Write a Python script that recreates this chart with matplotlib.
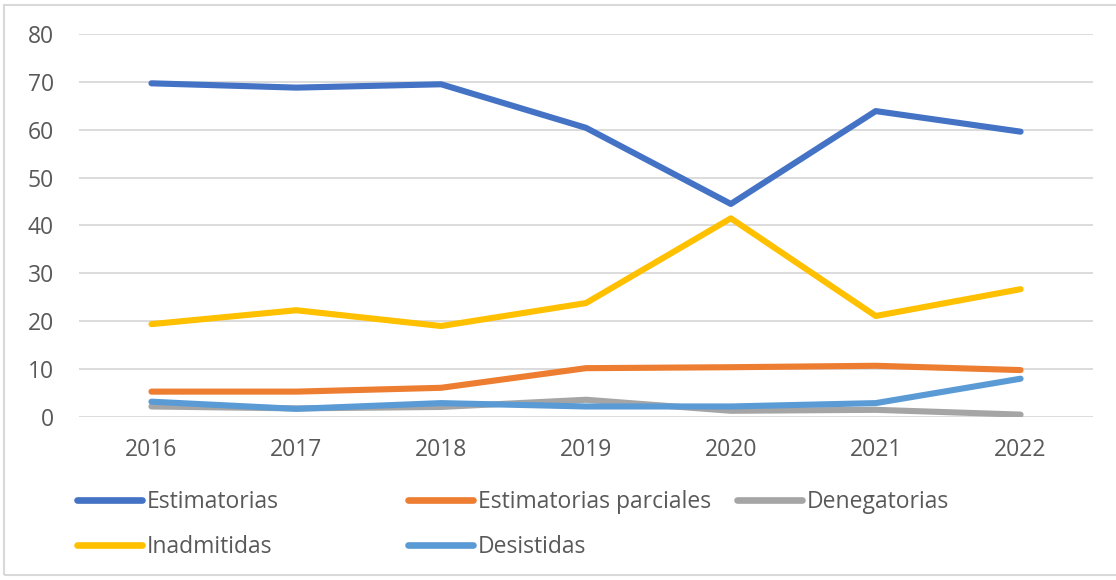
import matplotlib
matplotlib.use("Agg")
import matplotlib.pyplot as plt
from matplotlib.patches import Rectangle

plt.rcParams['font.family'] = ['Open Sans', 'DejaVu Sans']

years = ["2016", "2017", "2018", "2019", "2020", "2021", "2022"]
estimatorias = [69.7, 68.8, 69.5, 60.4, 44.5, 63.9, 59.6]
estim_parciales = [5.3, 5.3, 6.1, 10.2, 10.4, 10.7, 9.8]
denegatorias = [2.2, 1.8, 2.1, 3.6, 1.3, 1.5, 0.5]
inadmitidas = [19.4, 22.3, 19.0, 23.8, 41.5, 21.1, 26.7]
desistidas = [3.2, 1.7, 2.9, 2.2, 2.2, 2.9, 8.0]

series = [
    ("Estimatorias", estimatorias, "#4472C4"),
    ("Estimatorias parciales", estim_parciales, "#ED7D31"),
    ("Denegatorias", denegatorias, "#A5A5A5"),
    ("Inadmitidas", inadmitidas, "#FFC000"),
    ("Desistidas", desistidas, "#5B9BD5"),
]

W, H = 1116, 580
FS = 16.5
fig = plt.figure(figsize=(W / 100, H / 100), dpi=100)
ax = fig.add_axes([79 / W, 1 - 417 / H, (1093 - 79) / W, (417 - 34) / H])

x = list(range(len(years)))
handles = {}
for name, vals, col in series:
    ln, = ax.plot(x, vals, color=col, lw=4.4, solid_capstyle="round",
                  solid_joinstyle="round", label=name)
    handles[name] = ln

ax.set_xlim(-0.5, len(years) - 0.5)
ax.set_ylim(0, 80)
ax.set_yticks(range(0, 81, 10))
ax.set_xticks(x)
ax.set_xticklabels(years)
ax.grid(axis="y", color="#D9D9D9", lw=1.3)
ax.set_axisbelow(True)
for s in ax.spines.values():
    s.set_visible(False)
ax.tick_params(length=0, labelsize=FS, colors="#595959")
ax.tick_params(axis="y", pad=18)
ax.tick_params(axis="x", pad=15)

# legend entries placed like Excel's fixed grid (x of handle start, y of row)
legend_pos = {
    "Estimatorias": (77, 502),
    "Estimatorias parciales": (408, 502),
    "Denegatorias": (737, 502),
    "Inadmitidas": (77, 547),
    "Desistidas": (408, 547),
}
for name, (xpx, ypx) in legend_pos.items():
    leg = fig.legend([handles[name]], [name],
                     loc="center left", bbox_to_anchor=(xpx / W, 1 - ypx / H),
                     frameon=False, fontsize=FS, handlelength=2.85,
                     handletextpad=0.2, borderaxespad=0, borderpad=0)
    for t in leg.get_texts():
        t.set_color("#595959")
    for l in leg.get_lines():
        l.set_linewidth(4.8)

fig.patches.append(Rectangle((4 / W, 5 / H), 1.2, 1 - 10 / H,
                             transform=fig.transFigure, fill=False,
                             edgecolor="#D9D9D9", lw=1.5))

fig.savefig("out.png", dpi=100)
